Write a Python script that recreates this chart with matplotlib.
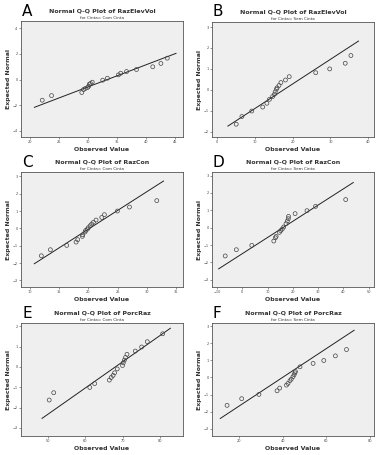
import matplotlib
matplotlib.use('Agg')
import matplotlib.pyplot as plt
import numpy as np

a_obs = [22.1, 23.7, 28.9, 29.2, 29.5, 29.9, 30.1, 30.2, 30.4, 30.7, 32.5, 33.3, 35.2, 35.6, 36.6, 38.3, 41.1, 42.5, 43.6]
a_exp = [-1.61, -1.25, -1.01, -0.78, -0.70, -0.62, -0.52, -0.36, -0.31, -0.21, -0.05, 0.10, 0.36, 0.49, 0.62, 0.78, 0.99, 1.25, 1.66]

b_obs = [5.1, 6.6, 9.2, 12.1, 13.2, 13.9, 14.7, 15.2, 15.4, 15.7, 15.9, 16.4, 16.9, 18.1, 19.1, 26.1, 29.8, 33.9, 35.4]
b_exp = [-1.64, -1.27, -1.01, -0.82, -0.64, -0.45, -0.32, -0.21, -0.10, 0.03, 0.10, 0.21, 0.35, 0.47, 0.63, 0.82, 1.00, 1.27, 1.64]

c_obs = [11.94, 13.49, 16.29, 17.89, 18.17, 18.97, 19.03, 19.43, 19.54, 19.83, 20.0, 20.29, 20.57, 20.86, 21.31, 22.29, 22.74, 24.97, 27.03, 31.71]
c_exp = [-1.58, -1.23, -0.98, -0.79, -0.65, -0.46, -0.37, -0.21, -0.12, -0.04, 0.04, 0.15, 0.25, 0.35, 0.48, 0.63, 0.79, 1.00, 1.23, 1.60]

d_obs = [-6.75, -2.34, 3.77, 12.47, 13.1, 13.4, 14.7, 15.2, 15.8, 16.4, 17.3, 17.8, 18.2, 18.3, 20.9, 25.6, 29.0, 40.9]
d_exp = [-1.63, -1.27, -1.02, -0.77, -0.58, -0.50, -0.27, -0.17, -0.08, 0.04, 0.23, 0.38, 0.52, 0.65, 0.81, 0.98, 1.23, 1.62]

e_obs = [50.4, 51.6, 61.2, 62.5, 66.4, 66.9, 67.4, 67.8, 68.5, 69.9, 70.1, 70.4, 70.7, 71.1, 73.3, 75.0, 76.5, 80.6]
e_exp = [-1.63, -1.27, -1.01, -0.82, -0.65, -0.52, -0.42, -0.29, -0.10, 0.07, 0.20, 0.33, 0.46, 0.62, 0.78, 0.98, 1.24, 1.63]

f_obs = [14.5, 21.2, 29.1, 37.4, 38.6, 41.7, 42.4, 43.3, 43.9, 44.7, 45.2, 45.6, 45.8, 47.9, 53.9, 58.8, 64.1, 69.2]
f_exp = [-1.63, -1.24, -0.99, -0.78, -0.62, -0.45, -0.35, -0.19, -0.10, 0.04, 0.16, 0.27, 0.35, 0.62, 0.82, 0.99, 1.26, 1.63]

# 参考线的均值和标准差
line_mean = [33.3, 17.6, 20.2, 16.05, 68.0, 39.9]
line_sd = [5.8, 8.5, 4.64, 10.7, 7.7, 11.9]
line_xrange = [(20.75, 45.1), (2.9, 37.4), (10.74, 32.86), (-9.35, 43.9), (48.5, 82.65), (11.4, 72.7)]

letters = ['A', 'B', 'C', 'D', 'E', 'F']
variables = ['RazElevVol', 'RazElevVol', 'RazCon', 'RazCon', 'PorcRaz', 'PorcRaz']
groups = ['Com Cinta', 'Sem Cinta'] * 3

xticks = [[20, 25, 30, 35, 40, 45], [0, 10, 20, 30, 40], [10, 15, 20, 25, 30, 35],
          [-10, 0, 10, 20, 30, 40, 50], [50, 60, 70, 80], [20, 40, 60, 80]]
yticks = [[-4, -2, 0, 2, 4], [-2, -1, 0, 1, 2, 3], [-3, -2, -1, 0, 1, 2, 3],
          [-3, -2, -1, 0, 1, 2, 3], [-3, -2, -1, 0, 1, 2], [-3, -2, -1, 0, 1, 2, 3]]
xlims = [(18.45, 46.3), (-1.3, 41.5), (8.46, 36.2), (-11.97, 52.1), (42.9, 86.0), (7.6, 81.8)]
ylims = [(-4.47, 4.55), (-2.25, 3.24), (-3.38, 3.25), (-3.42, 3.21), (-3.4, 2.16), (-3.42, 3.18)]

obs_all = [a_obs, b_obs, c_obs, d_obs, e_obs, f_obs]
exp_all = [a_exp, b_exp, c_exp, d_exp, e_exp, f_exp]

# 坐标轴位置 (像素): 左, 右, 上, 下
boxes = [(21, 183, 21, 137), (212, 374, 22, 137),
         (21, 183, 172, 287), (212, 374, 172, 287),
         (21, 183, 323, 436), (212, 374, 323, 436)]

W, H = 383, 455
fig = plt.figure(figsize=(W / 100, H / 100), dpi=100)
fig.patch.set_facecolor('white')

for i in range(6):
    l, r, t, b = boxes[i]
    ax = fig.add_axes([l / W, 1 - b / H, (r - l) / W, (b - t) / H])
    ax.set_facecolor('#efefef')
    for sp in ax.spines.values():
        sp.set_color('#555555')
        sp.set_linewidth(0.6)

    # 参考线
    x0, x1 = line_xrange[i]
    lx = np.array([x0, x1])
    ax.plot(lx, (lx - line_mean[i]) / line_sd[i], color='#222222', lw=0.7)

    ax.scatter(obs_all[i], exp_all[i], s=8, facecolors='none',
               edgecolors='#444444', linewidths=0.5, zorder=3)

    ax.set_xlim(*xlims[i])
    ax.set_ylim(*ylims[i])
    ax.set_xticks(xticks[i])
    ax.set_yticks(yticks[i])
    ax.tick_params(labelsize=2.5, length=1.5, width=0.4, pad=1, colors='#444444')

    ax.set_xlabel('Observed Value', fontsize=4.5, fontweight='bold', labelpad=2, color='#333333')
    ax.set_ylabel('Expected Normal', fontsize=4.5, fontweight='bold', labelpad=1, color='#333333')

    cx = (l + r) / 2 / W
    fig.text(cx, 1 - (t - 10) / H, 'Normal Q-Q Plot of ' + variables[i], fontsize=4.5,
             fontweight='bold', ha='center', va='center', color='#333333')
    fig.text(cx, 1 - (t - 3) / H, 'for Cinta= ' + groups[i], fontsize=3,
             ha='center', va='center', color='#333333')
    fig.text((l + 1) / W, 1 - (t - 10) / H, letters[i], fontsize=11,
             ha='left', va='center', color='black')

plt.savefig('out.png', dpi=100)
